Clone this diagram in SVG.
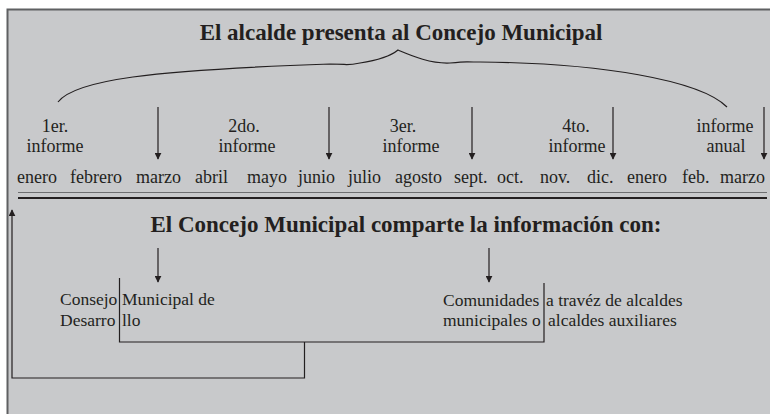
<svg xmlns="http://www.w3.org/2000/svg" width="770" height="414" viewBox="0 0 770 414">
<style>
.t{font-family:"Liberation Serif","Times New Roman",serif;font-size:18px;fill:#231f20}
.b{font-family:"Liberation Serif","Times New Roman",serif;font-size:23px;font-weight:bold;fill:#231f20}
.s{font-family:"Liberation Serif","Times New Roman",serif;font-size:17.5px;fill:#231f20}
.ln{stroke:#231f20;stroke-width:1.2;fill:none}
</style>
<defs>
<marker id="ah" viewBox="0 0 10 10" refX="9" refY="5" markerWidth="7" markerHeight="7" markerUnits="userSpaceOnUse" orient="auto">
<path d="M0,0 L10,5 L0,10 Z" fill="#231f20"/>
</marker>
</defs>
<rect x="7.5" y="9.5" width="770" height="420" fill="#c8c9cb" stroke="#5f6062" stroke-width="2"/>
<g id="title-top"><text class="b" x="401" y="40" text-anchor="middle">El alcalde presenta al Concejo Municipal</text></g>
<g id="brace"><path class="ln" d="M58,102 C75,80 150,70 330,64 C350,64 345,66 360,63 C380,60 392,55 398,50 C410,55 430,64 450,63 C470,61 460,62 480,62 C600,63 700,80 727,107"/></g>
<g id="informes">
<text class="t" text-anchor="middle"><tspan x="55" y="132">1er.</tspan><tspan x="55" y="152">informe</tspan></text>
<text class="t" text-anchor="middle"><tspan x="244" y="132">2do.</tspan><tspan x="247" y="152">informe</tspan></text>
<text class="t" text-anchor="middle"><tspan x="403" y="132">3er.</tspan><tspan x="411" y="152">informe</tspan></text>
<text class="t" text-anchor="middle"><tspan x="576" y="132">4to.</tspan><tspan x="577" y="152">informe</tspan></text>
<text class="t" text-anchor="middle"><tspan x="725" y="132">informe</tspan><tspan x="726" y="152">anual</tspan></text>
</g>
<g id="months">
<text class="t" y="183"><tspan x="17">enero</tspan><tspan x="70">febrero</tspan><tspan x="136">marzo</tspan><tspan x="195">abril</tspan><tspan x="247">mayo</tspan><tspan x="298">junio</tspan><tspan x="348">julio</tspan><tspan x="395">agosto</tspan><tspan x="454">sept.</tspan><tspan x="497">oct.</tspan><tspan x="540">nov.</tspan><tspan x="587">dic.</tspan><tspan x="627">enero</tspan><tspan x="682">feb.</tspan><tspan x="720">marzo</tspan></text>
</g>
<g id="divider">
<line x1="18" y1="192.5" x2="767" y2="192.5" stroke="#6d6e70" stroke-width="1.2"/>
<line x1="18" y1="198" x2="767" y2="198" stroke="#231f20" stroke-width="2.2"/>
</g>
<g id="title-bottom"><text class="b" x="406" y="232" text-anchor="middle">El Concejo Municipal comparte la información con:</text></g>
<g id="consejo"><text class="s"><tspan x="60" y="305">Consejo</tspan><tspan x="122" y="305">Municipal de</tspan><tspan x="60" y="326">Desarro</tspan><tspan x="122" y="326">llo</tspan></text></g>
<g id="comunidades"><text class="s"><tspan x="443" y="306">Comunidades</tspan><tspan x="546" y="306">a travéz de alcaldes</tspan><tspan x="443" y="326">municipales o</tspan><tspan x="548" y="326">alcaldes auxiliares</tspan></text></g>
<g id="connectors">
<line class="ln" x1="158" y1="107" x2="158" y2="159" marker-end="url(#ah)"/>
<line class="ln" x1="329" y1="107" x2="329" y2="159" marker-end="url(#ah)"/>
<line class="ln" x1="472" y1="107" x2="472" y2="159" marker-end="url(#ah)"/>
<line class="ln" x1="613" y1="107" x2="613" y2="159" marker-end="url(#ah)"/>
<line class="ln" x1="764" y1="107" x2="764" y2="159" marker-end="url(#ah)"/>
<line class="ln" x1="158" y1="248" x2="158" y2="282" marker-end="url(#ah)"/>
<line class="ln" x1="489" y1="248" x2="489" y2="282" marker-end="url(#ah)"/>
<path class="ln" d="M119.5,278 V342 H544 V283"/>
<path class="ln" d="M304.5,342 V378 H12 V210" marker-end="url(#ah)"/>
</g>
</svg>
